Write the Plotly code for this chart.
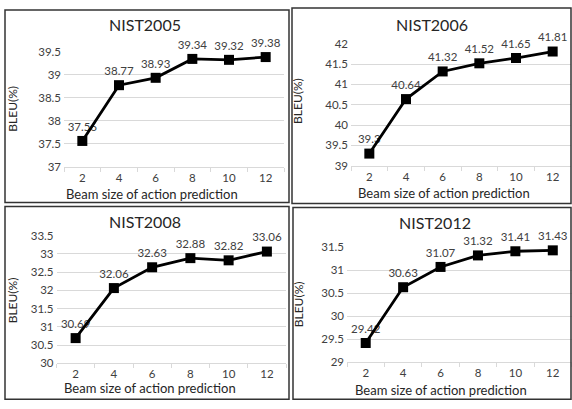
import plotly.graph_objects as go

W, H = 572, 409

beam_sizes = ["2", "4", "6", "8", "10", "12"]
titles = ["NIST2005", "NIST2006", "NIST2008", "NIST2012"]
bleu_2005 = [37.56, 38.77, 38.93, 39.34, 39.32, 39.38]
bleu_2006 = [39.3, 40.64, 41.32, 41.52, 41.65, 41.81]
bleu_2008 = [30.69, 32.06, 32.63, 32.88, 32.82, 33.06]
bleu_2012 = [29.42, 30.63, 31.07, 31.32, 31.41, 31.43]
series = [bleu_2005, bleu_2006, bleu_2008, bleu_2012]
y_ranges = [(37, 39.5), (39, 42), (30, 33.5), (29, 31.5)]
x_title = "Beam size of action prediction"
y_title = "BLEU(%)"

FONT = "Lato"
DARK = "#262626"
TICK = "#404040"
GRID = "#d9d9d9"

def px(x):
    return x / W

def py(y):
    return 1 - y / H

# layout geometry (pixels): plot area, panel border, title, axis titles
panels = [
    dict(plot=(64, 284, 46, 165), border=(5, 289, 3, 202), title=(145, 18),
         xt=(152, 193), yt=(13, 105)),
    dict(plot=(351, 571, 38, 164), border=(292, 571, 1, 203), title=(432, 18),
         xt=(444, 192), yt=(298, 97)),
    dict(plot=(56.5, 286, 236, 368), border=(5, 289, 206, 405), title=(145, 222),
         xt=(150, 394), yt=(12, 303)),
    dict(plot=(347, 571.5, 248, 367), border=(293, 571, 207, 405), title=(435, 223),
         xt=(441, 396), yt=(298, 307)),
]

fig = go.Figure()
shapes = []
annotations = []
layout_axes = {}

for i, (vals, p, ttl, yr) in enumerate(zip(series, panels, titles, y_ranges)):
    n = "" if i == 0 else str(i + 1)
    xa, ya = "x" + n, "y" + n
    # labels first, so the line is drawn over them
    fig.add_trace(go.Scatter(
        x=beam_sizes, y=vals, xaxis=xa, yaxis=ya, mode="markers+text",
        text=[f"{v:g}" for v in vals], textposition="top center",
        textfont=dict(family=FONT, size=11.5, color=TICK),
        marker=dict(size=10, color="rgba(0,0,0,0)"),
        showlegend=False, hoverinfo="skip", cliponaxis=False))
    fig.add_trace(go.Scatter(
        x=beam_sizes, y=vals, xaxis=xa, yaxis=ya, mode="lines+markers",
        line=dict(color="black", width=2.8),
        marker=dict(symbol="square", size=10, color="black"),
        showlegend=False, cliponaxis=False))
    x0, x1, y0, y1 = p["plot"]
    layout_axes["xaxis" + n] = dict(
        domain=[px(x0), px(x1)], anchor=ya, type="category",
        range=[-0.5, 5.5], showgrid=False, showline=True, linecolor=GRID,
        linewidth=1, ticks="outside", ticklen=4, tickcolor=GRID,
        tickson="boundaries",
        tickfont=dict(family=FONT, size=11.5, color=TICK), zeroline=False)
    layout_axes["yaxis" + n] = dict(
        domain=[py(y1), py(y0)], anchor=xa, range=list(yr), dtick=0.5,
        tick0=yr[0], showgrid=True, gridcolor=GRID, gridwidth=1,
        zeroline=False, showline=False, ticks="", ticklabelstandoff=2,
        tickfont=dict(family=FONT, size=11.5, color=TICK))
    bx0, bx1, by0, by1 = p["border"]
    shapes.append(dict(type="rect", xref="paper", yref="paper",
                       x0=px(bx0), x1=px(bx1), y0=py(by1), y1=py(by0),
                       line=dict(color="#333333", width=1.5)))
    tx, ty = p["title"]
    annotations.append(dict(text=ttl, x=px(tx), y=py(ty), xref="paper",
                            yref="paper", showarrow=False,
                            xanchor="center", yanchor="middle",
                            font=dict(family=FONT, size=16, color=DARK)))
    xtx, xty = p["xt"]
    annotations.append(dict(text=x_title, x=px(xtx), y=py(xty), xref="paper",
                            yref="paper", showarrow=False,
                            xanchor="center", yanchor="middle",
                            font=dict(family=FONT, size=13, color=DARK)))
    ytx, yty = p["yt"]
    annotations.append(dict(text=y_title, x=px(ytx), y=py(yty), xref="paper",
                            yref="paper", showarrow=False, textangle=-90,
                            xanchor="center", yanchor="middle",
                            font=dict(family=FONT, size=12, color=DARK)))

fig.update_layout(
    width=W, height=H, autosize=False,
    margin=dict(l=0, r=0, t=0, b=0),
    paper_bgcolor="white", plot_bgcolor="white",
    shapes=shapes, annotations=annotations, **layout_axes)

fig.write_html("out.html",
               config={"displayModeBar": False},
               post_script="document.body.style.margin='0';"
                           "document.body.style.overflow='hidden';")
